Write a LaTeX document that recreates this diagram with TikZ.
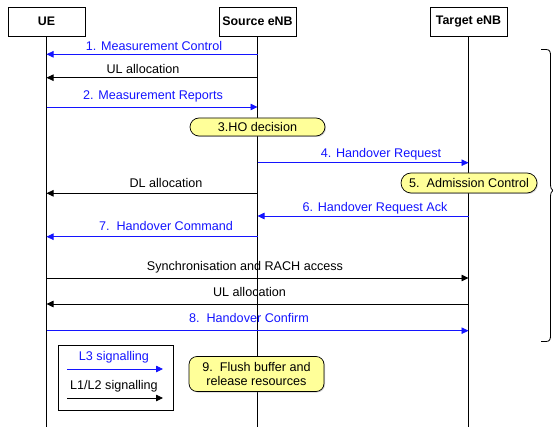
\documentclass[tikz,border=0pt]{standalone}
\usepackage{fontspec}
\setmainfont{Liberation Sans}
\usetikzlibrary{arrows.meta,shapes.misc,shadows}
\definecolor{sigblue}{RGB}{20,20,255}
\definecolor{noteyellow}{RGB}{255,255,153}
\begin{document}
\begin{tikzpicture}[x=1pt,y=-1pt,
  every node/.style={font=\fontsize{12.6}{14.5}\selectfont, inner sep=0pt},
  actor/.style={draw, line width=0.7pt, minimum width=77pt, minimum height=29pt, font=\fontsize{12.4}{14}\selectfont\bfseries, fill=white},
  life/.style={line width=0.7pt},
  msg/.style={line width=0.8pt, -{Triangle[length=7pt,width=6.5pt]}},
  l3/.style={msg, sigblue},
  l2/.style={msg, black},
  l3txt/.style={text=sigblue},
  note/.style={draw, line width=0.7pt, fill=noteyellow, drop shadow={shadow xshift=1pt, shadow yshift=-1pt, opacity=0.35}},
  pill/.style={note, rounded rectangle},
]
\useasboundingbox (0,0) rectangle (553,427);
% actors
\node[actor] (ue) at (46.5,21.5) {UE};
\node[actor] (src) at (257.5,21.5) {Source eNB};
\node[actor] (tgt) at (468.5,21.5) {Target eNB};
% lifeline ends
\coordinate (bot) at (0,427);
\draw[life] (ue.south) -- (ue |- bot);
\draw[life] (src.south) -- (src |- bot);
\draw[life] (tgt.south) -- (tgt |- bot);
% rows
\coordinate (r1) at (0,54.3);
\coordinate (r2) at (0,77.7);
\coordinate (r3) at (0,107);
\coordinate (r4) at (0,162.7);
\coordinate (r5) at (0,193.3);
\coordinate (r6) at (0,216);
\coordinate (r7) at (0,236.7);
\coordinate (r8) at (0,278);
\coordinate (r9) at (0,304);
\coordinate (r10) at (0,330.7);
% messages
\draw[l3] (src |- r1) -- (ue |- r1);
\node[l3txt] (t1) at (154,46) {1. Measurement Control};
\draw[l2] (src |- r2) -- (ue |- r2);
\node (t2) at (143,69) {UL allocation};
\draw[l3] (ue |- r3) -- (src |- r3);
\node[l3txt] (t3) at (153,96) {2. Measurement Reports};
\node[pill, minimum width=135pt, minimum height=18pt] (ho) at (257.5,127) {3.HO decision};
\draw[l3] (src |- r4) -- (tgt |- r4);
\node[l3txt] (t4) at (381,154) {4. Handover Request};
\draw[l2] (src |- r5) -- (ue |- r5);
\node (t5) at (166,183) {DL allocation};
\node[pill, minimum width=136pt, minimum height=20pt] (ac) at (469,183) {5.\ \ Admission Control};
\draw[l3] (tgt |- r6) -- (src |- r6);
\node[l3txt] (t6) at (375,208) {6. Handover Request Ack};
\draw[l3] (src |- r7) -- (ue |- r7);
\node[l3txt] (t7) at (166,226) {7.\ \ Handover Command};
\draw[l2] (ue |- r8) -- (tgt |- r8);
\node (t8) at (245,267) {Synchronisation and RACH access};
\draw[l2] (tgt |- r9) -- (ue |- r9);
\node (t9) at (249.5,292) {UL allocation};
\draw[l3] (ue |- r10) -- (tgt |- r10);
\node[l3txt] (t10) at (249,318) {8.\ \ Handover Confirm};
% flush note
\node[note, rounded corners=8pt, minimum width=135pt, minimum height=35pt, align=center, font=\fontsize{12.6}{14.5}\selectfont] (fl) at (256.5,374) {9.\ \ Flush buffer and\\release resources};
% legend
\node[draw, line width=0.7pt, minimum width=115pt, minimum height=65pt] (leg) at (115.5,377.5) {};
\node[l3txt] (lt1) at (114,357.7) {L3 signalling};
\coordinate (la1) at (67,369);
\coordinate (lb1) at (163,369);
\draw[l3] (la1) -- (lb1);
\node (lt2) at (114,386.7) {L1/L2 signalling};
\coordinate (la2) at (67,398);
\coordinate (lb2) at (163,398);
\draw[l2] (la2) -- (lb2);
% brace
\draw[line width=0.8pt, line join=round]
  (541,49.5) -- (546,49.5) .. controls (550,49.5) and (550.5,52) .. (550.5,56)
  -- (550.5,184) .. controls (550.5,188) and (551.5,190) .. (553,190.5)
  .. controls (551.5,191) and (550.5,193) .. (550.5,197)
  -- (550.5,335) .. controls (550.5,339) and (550,341.5) .. (546,341.5) -- (541,341.5);
\end{tikzpicture}
\end{document}
